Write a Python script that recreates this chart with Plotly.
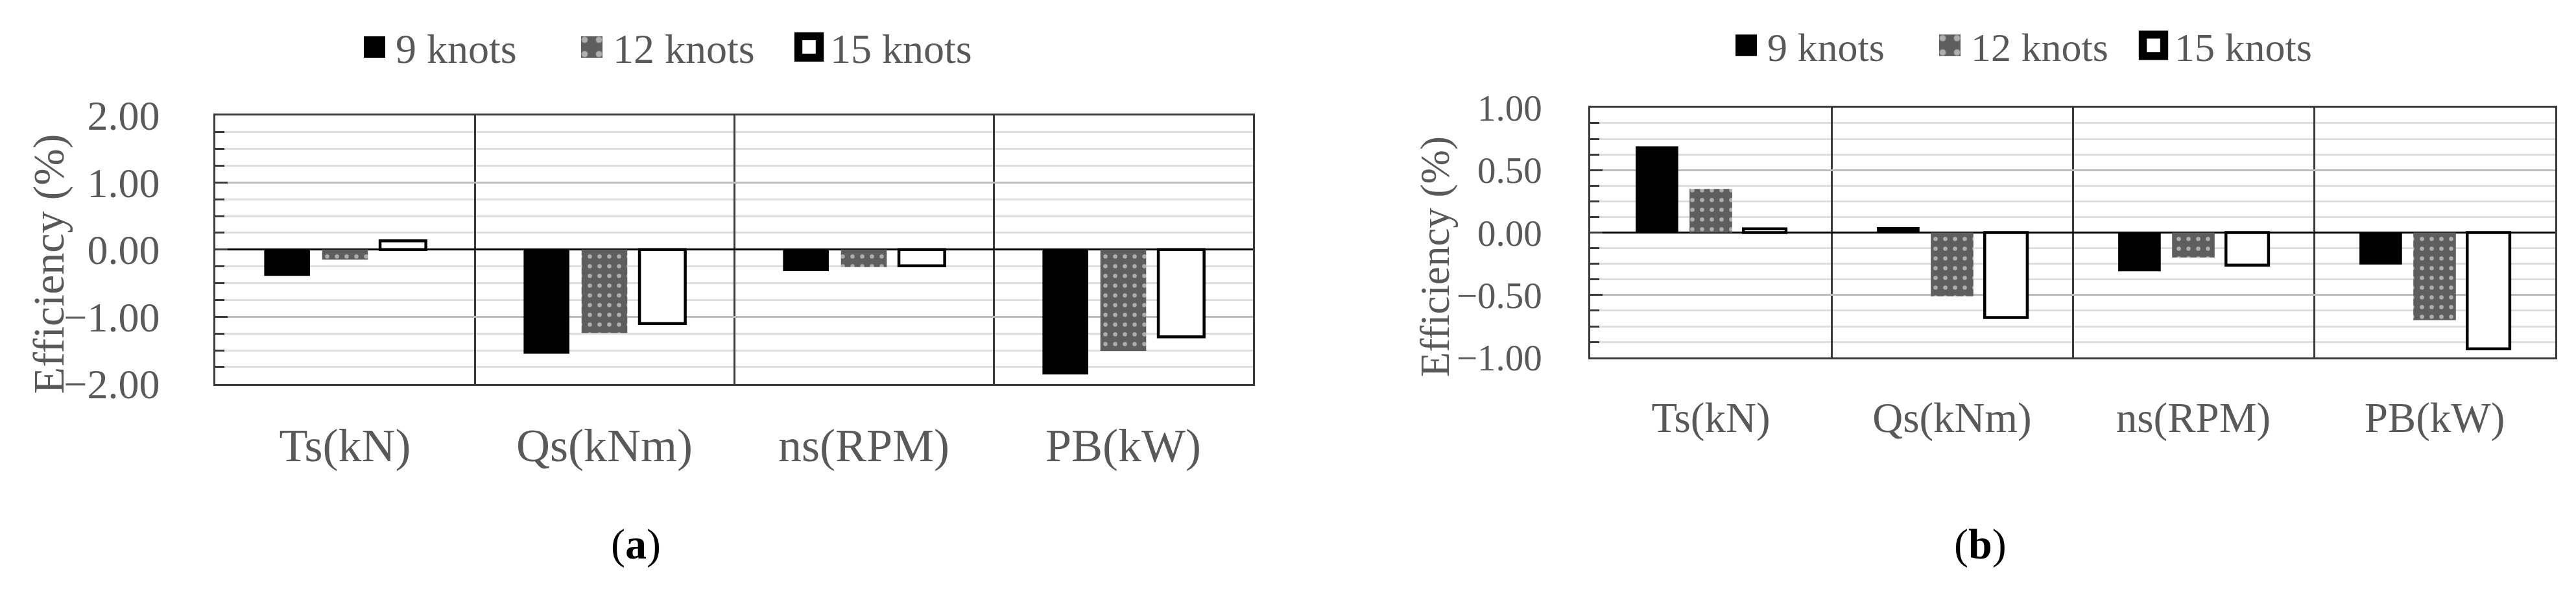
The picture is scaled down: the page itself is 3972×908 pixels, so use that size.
import plotly.graph_objects as go

# ---------- data (efficiency change, %) ----------
CATEGORIES = ["Ts(kN)", "Qs(kNm)", "ns(RPM)", "PB(kW)"]
SERIES = ["9 knots", "12 knots", "15 knots"]

# panel (a)
A_9KN = [-0.39, -1.55, -0.32, -1.86]
A_12KN = [-0.15, -1.24, -0.26, -1.51]
A_15KN = [0.13, -1.10, -0.24, -1.30]

# panel (b)
B_9KN = [0.69, 0.045, -0.31, -0.255]
B_12KN = [0.35, -0.51, -0.20, -0.70]
B_15KN = [0.03, -0.68, -0.26, -0.93]

W, H = 3972, 908
FONT = "Liberation Serif"
TXT = "#595959"
EDGE = "#3a3a3a"


def bar_styles():
    return [
        dict(marker=dict(color="#000000", line=dict(width=0))),
        dict(marker=dict(color="#5e5e5e", line=dict(width=0),
                         pattern=dict(shape=".", fgcolor="white", bgcolor="#5e5e5e",
                                      size=15, solidity=0.15))),
        dict(marker=dict(color="white", line=dict(color="black", width=4.5))),
    ]


def add_panel(fig, values, xa, ya, legend):
    for name, vals, style in zip(SERIES, values, bar_styles()):
        fig.add_trace(go.Bar(x=CATEGORIES, y=vals, name=name, xaxis=xa, yaxis=ya,
                             legend=legend, **style))


fig = go.Figure()
add_panel(fig, [A_9KN, A_12KN, A_15KN], "x", "y", "legend")
add_panel(fig, [B_9KN, B_12KN, B_15KN], "x2", "y2", "legend2")


def xaxis(domain, anchor, size, standoff):
    return dict(domain=domain, anchor=anchor, type="category",
                tickson="boundaries", showgrid=True, gridcolor=EDGE, gridwidth=2.5,
                showline=True, mirror=True, linecolor=EDGE, linewidth=2.5,
                ticks="", ticklabelstandoff=standoff,
                tickfont=dict(family=FONT, size=size, color=TXT))


def yaxis(domain, anchor, rng, dtick, size, standoff):
    return dict(domain=domain, anchor=anchor, range=rng, dtick=dtick, tickformat=".2f",
                showgrid=True, gridcolor="#bdbdbd", gridwidth=2.5,
                zeroline=True, zerolinecolor="#000000", zerolinewidth=2.5,
                showline=True, mirror=True, linecolor=EDGE, linewidth=2.5,
                ticks="inside", ticklen=19, tickwidth=2.5, tickcolor=EDGE,
                ticklabelposition="outside", ticklabelstandoff=standoff,
                ticklabeloverflow="allow",
                minor=dict(dtick=dtick / 4, ticks="inside", ticklen=14, tickwidth=2.5,
                           tickcolor=EDGE, showgrid=True, gridcolor="#dedede", gridwidth=2.5),
                tickfont=dict(family=FONT, size=size, color=TXT))


def legend_box(x, y, size, entry):
    return dict(orientation="h", x=x, xanchor="left", y=y, yanchor="middle",
                font=dict(family=FONT, size=size, color=TXT),
                itemwidth=55, entrywidth=entry, entrywidthmode="pixels",
                bgcolor="rgba(0,0,0,0)", itemclick=False, itemdoubleclick=False)


def label(text, x, y, size, color=TXT, angle=0):
    return dict(text=text, textangle=angle, x=x / W, y=1 - y / H,
                xref="paper", yref="paper", xanchor="center", yanchor="middle",
                showarrow=False, font=dict(family=FONT, size=size, color=color))


fig.update_layout(
    width=W, height=H,
    margin=dict(l=0, r=0, t=0, b=0),
    paper_bgcolor="white", plot_bgcolor="white",
    barmode="group", bargap=0.33, bargroupgap=0.21,
    font=dict(family=FONT, color=TXT),
    xaxis=xaxis([332 / W, 1932 / W], "y", 72, 30),
    yaxis=yaxis([1 - 604 / H, 1 - 155 / H], "x", [-2, 2], 1, 64, 70),
    xaxis2=xaxis([2452 / W, 3940 / W], "y2", 65, 34),
    yaxis2=yaxis([1 - 560 / H, 1 - 142 / H], "x2", [-1, 1], 0.5, 57, 60),
    legend=legend_box(545 / W, 1 - 41 / H, 64, 265),
    legend2=legend_box(2660 / W, 1 - 38 / H, 62, 244),
    annotations=[
        label("Efficiency (%)", 75, 404, 68, angle=-90),
        label("Efficiency (%)", 2213, 392, 63, angle=-90),
        label("(<b>a</b>)", 980, 872, 66, color="#000000"),
        label("(<b>b</b>)", 3053, 872, 66, color="#000000"),
    ],
)

# Plotly draws bar legend swatches at a fixed 12px; blow them up to match the
# reference and drop the default body margin so the figure sits at (0, 0).
POST = """
document.body.style.margin = '0';
document.querySelectorAll('.legendpoints path').forEach(function (p) {
    var t = p.getAttribute('transform') || '';
    p.setAttribute('transform', t + ' scale(2.75)');
});
"""

fig.write_html("out.html", post_script=POST, config=dict(displayModeBar=False))
